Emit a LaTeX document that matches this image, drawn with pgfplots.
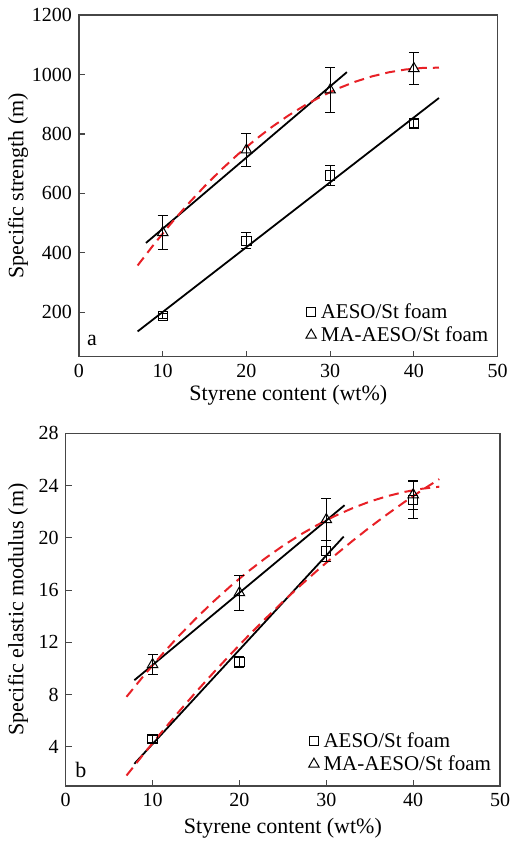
\documentclass[border=0pt]{standalone}
\usepackage{fontspec}
\setmainfont{Liberation Serif}
\usepackage{pgfplots}
\usepackage{pgfplotstable}
\pgfplotsset{compat=1.18}

\definecolor{fitred}{RGB}{232,32,38}
\definecolor{frame}{RGB}{70,70,70}

% (a) specific strength, value and error half-width
\pgfplotstableread{
x   y     e
10  187   8
20  440   27
30  660   35
40  835   12
}\strengthAESO
\pgfplotstableread{
x   y     e
10  468   56
20  746   56
30  948   76
40  1020  55
}\strengthMA
% (b) specific elastic modulus
\pgfplotstableread{
x   y     e
10  4.6   0.25
20  10.5  0.45
30  19.0  0.8
40  22.9  1.4
}\modulusAESO
\pgfplotstableread{
x   y     e
10  10.3  0.75
20  15.8  1.35
30  21.4  1.6
40  23.3  1.1
}\modulusMA

\pgfplotsset{
  foam/.style={
    scale only axis,
    xmin=0, xmax=50, xtick={0,10,...,50},
    axis line style={draw=frame, line width=0.75pt},
    tick align=inside, major tick length=3pt,
    tick style={frame, line width=0.6pt},
    xtick pos=bottom, ytick pos=left,
    /pgf/number format/assume math mode=true,
    /pgf/number format/1000 sep={},
    ticklabel style={font=\fontsize{10}{12}\selectfont},
    label style={font=\fontsize{11}{13}\selectfont},
    xlabel={Styrene content (wt\%)},
    legend cell align=left,
    legend style={draw=none, fill=none, inner sep=0pt, row sep=0.5pt,
      font=\fontsize{10.5}{12}\selectfont,
      nodes={inner xsep=2.2pt, inner ysep=1pt}},
  },
  fitline/.style={black, line width=0.9pt, no marks, forget plot},
  fitcurve/.style={fitred, line width=1pt, dash pattern=on 5pt off 3pt, no marks, forget plot},
  datapts/.style={only marks, black, line width=0.5pt,
    legend image code/.code={\draw[##1] plot coordinates {(0pt,0pt)};},
    error bars/.cd, y dir=both, y explicit,
    error bar style={black, line width=0.5pt},
    error mark options={rotate=90, black, mark size=2.5pt, line width=0.5pt}},
  sqmark/.style={mark=square, mark size=2.3pt, datapts},
  trmark/.style={mark=triangle, mark size=3pt, datapts},
}

\begin{document}
\begin{tikzpicture}
% ---------- panel a ----------
\begin{axis}[foam,
  at={(39.5pt,242.65pt)}, anchor=south west,
  width=209.3pt, height=170.8pt,
  ymin=50, ymax=1200, ytick={200,400,...,1200},
  ylabel={Specific strength (m)},
  ylabel style={at={(axis description cs:-0.146,0.5)}, anchor=center},
  xlabel style={at={(axis description cs:0.5,-0.112)}, anchor=center},
  legend style={at={(axis description cs:0.989,0.03)}, anchor=south east},
]
\addplot[fitline] coordinates {(7,135) (43,921)};
\addplot[fitline] coordinates {(8,433) (32,1008)};
\addplot[fitcurve] coordinates {
 (7,357) (9,430.0) (11,498.8) (13,563.4) (15,623.7) (17,679.8) (19,731.6)
 (21,779.2) (23,822.6) (25,861.7) (27,896.6) (29,927.2) (31,953.6)
 (33,975.8) (35,993.7) (37,1007.4) (39,1016.8) (41,1022.0) (43,1023.0)};
\addplot[sqmark] table[x=x, y=y, y error=e] {\strengthAESO};
\addlegendentry{AESO/St foam}
\addplot[trmark] table[x=x, y=y, y error=e] {\strengthMA};
\addlegendentry{MA-AESO/St foam}
\node[font=\fontsize{11}{13}\selectfont] at (axis description cs:0.031,0.049) {a};
\end{axis}
% ---------- panel b ----------
\begin{axis}[foam,
  at={(32.85pt,28pt)}, anchor=south west,
  width=217.2pt, height=176.3pt,
  ymin=1, ymax=28, ytick={4,8,...,28},
  ylabel={Specific elastic modulus (m)},
  ylabel style={at={(axis description cs:-0.11,0.5)}, anchor=center},
  xlabel style={at={(axis description cs:0.5,-0.119)}, anchor=center},
  legend style={at={(axis description cs:0.99,0.03)}, anchor=south east},
]
\addplot[fitline] coordinates {(7.9,9.1) (32.1,22.5)};
\addplot[fitline] coordinates {(7.9,2.7) (32,20.1)};
\addplot[fitcurve] coordinates {
 (7,7.83) (9,9.46) (11,11.01) (13,12.47) (15,13.84) (17,15.12) (19,16.32)
 (21,17.43) (23,18.45) (25,19.39) (27,20.24) (29,21.00) (31,21.68)
 (33,22.27) (35,22.78) (37,23.19) (39,23.52) (41,23.76) (43,23.92)};
\addplot[fitcurve] coordinates {
 (7,1.8) (9,3.47) (11,5.09) (13,6.67) (15,8.20) (17,9.67) (19,11.10)
 (21,12.49) (23,13.82) (25,15.11) (27,16.34) (29,17.53) (31,18.67)
 (33,19.76) (35,20.81) (37,21.80) (39,22.75) (41,23.65) (43,24.50)};
\addplot[sqmark] table[x=x, y=y, y error=e] {\modulusAESO};
\addlegendentry{AESO/St foam}
\addplot[trmark] table[x=x, y=y, y error=e] {\modulusMA};
\addlegendentry{MA-AESO/St foam}
\node[font=\fontsize{11}{13}\selectfont] at (axis description cs:0.035,0.045) {b};
\end{axis}
\pgfresetboundingbox
\useasboundingbox (0,0) rectangle (255.5pt,421pt);
\end{tikzpicture}
\end{document}
